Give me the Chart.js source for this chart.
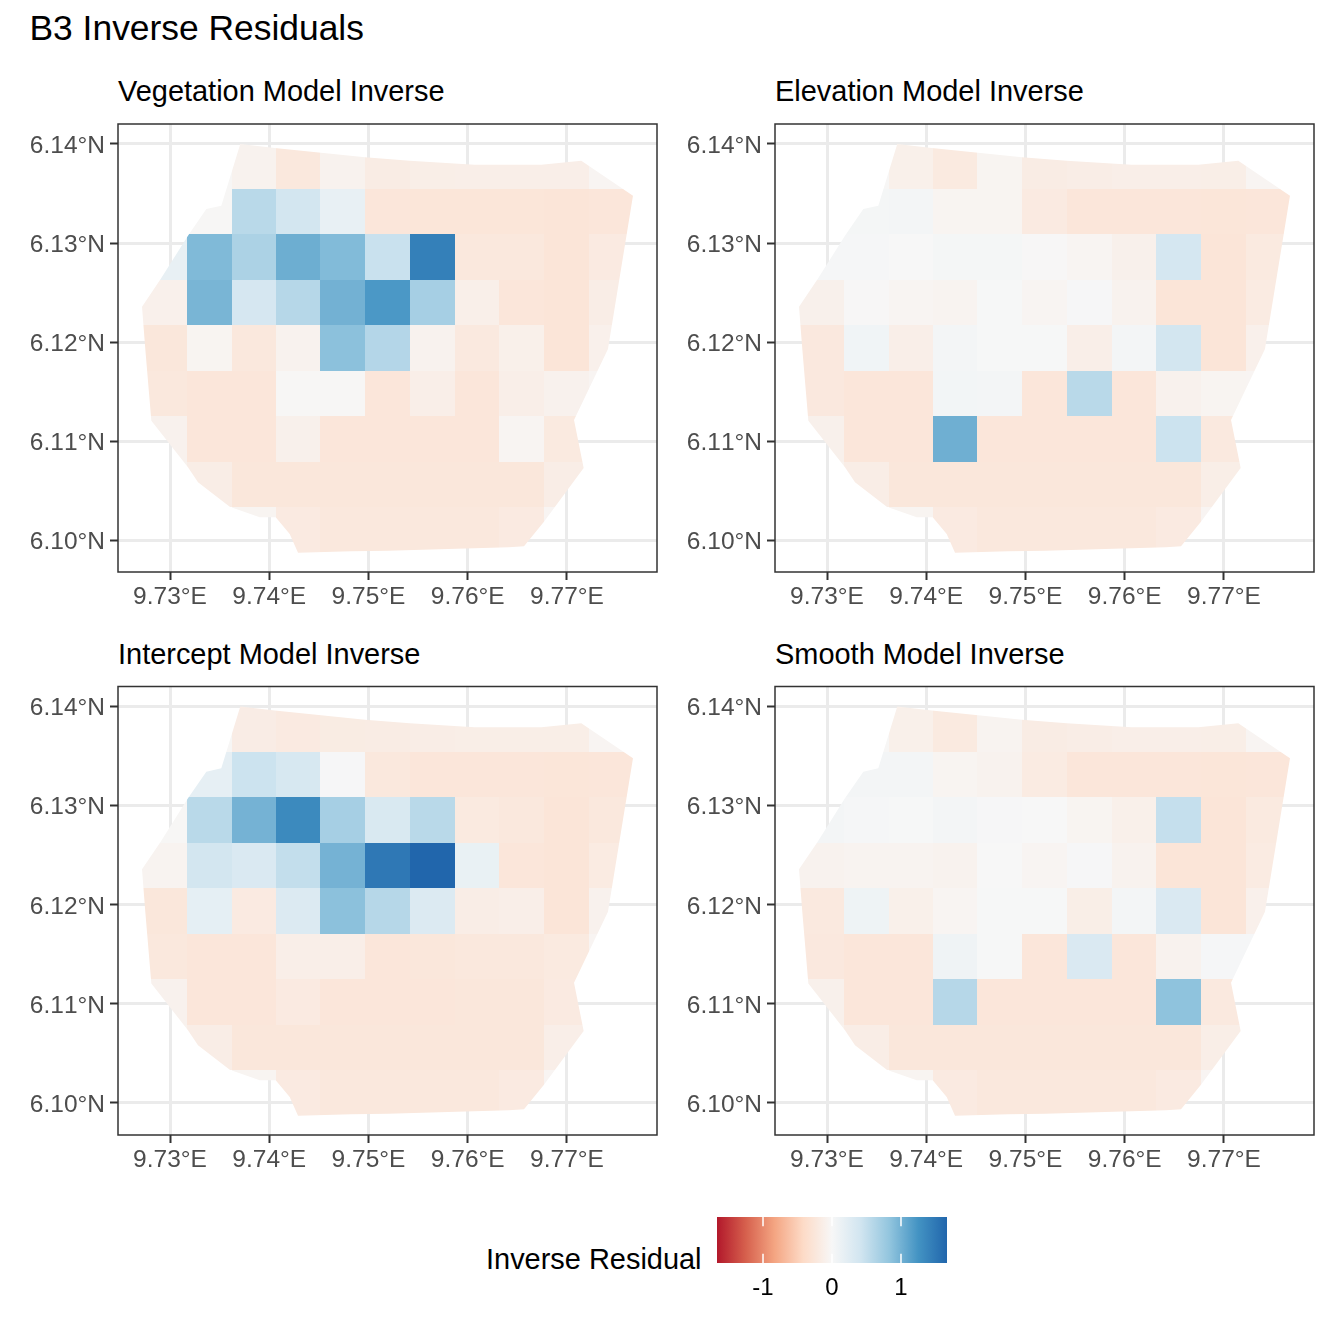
<!DOCTYPE html>
<html>
<head>
<meta charset="utf-8">
<title>B3 Inverse Residuals</title>
<script src="https://cdn.jsdelivr.net/npm/chart.js@4"></script>
<style>
    html, body { margin: 0; padding: 0; background: #fff; }
    #page { position: relative; width: 1344px; height: 1344px; overflow: hidden; font-family: "Liberation Sans", sans-serif; }
    #page canvas { position: absolute; }
    .label { position: absolute; color: #000; line-height: 1; white-space: nowrap; }
    .title { font-size: 35.4px; }
    .sub { font-size: 28.95px; }
</style>
</head>
<body>
<div id="page">
    <div class="label title" style="left:29.5px;top:11px">B3 Inverse Residuals</div>
    <div class="label sub" style="left:118px;top:76.5px">Vegetation Model Inverse</div>
    <div class="label sub" style="left:775px;top:76.5px">Elevation Model Inverse</div>
    <div class="label sub" style="left:118px;top:640px">Intercept Model Inverse</div>
    <div class="label sub" style="left:775px;top:640px">Smooth Model Inverse</div>
    <div class="label sub" style="left:486px;top:1245px">Inverse Residual</div>
    <canvas id="vegetation" width="672" height="510" style="left:0;top:100px"></canvas>
    <canvas id="elevation" width="672" height="510" style="left:657px;top:100px"></canvas>
    <canvas id="intercept" width="672" height="510" style="left:0;top:663px"></canvas>
    <canvas id="smooth" width="672" height="510" style="left:657px;top:663px"></canvas>
    <canvas id="colorbar" width="264" height="100" style="left:700px;top:1205px"></canvas>
</div>
<script>
// --- values ---
const xTickValues = [9.73, 9.74, 9.75, 9.76, 9.77];
const xTickLabels = ['9.73°E', '9.74°E', '9.75°E', '9.76°E', '9.77°E'];
const yTickValues = [6.10, 6.11, 6.12, 6.13, 6.14];
const yTickLabels = ['6.10°N', '6.11°N', '6.12°N', '6.13°N', '6.14°N'];
const legendTicks = [-1, 0, 1];
const legendTickLabels = ['-1', '0', '1'];

// raster cell edges
const lonEdges = [9.72700, 9.73171, 9.73620, 9.74068, 9.74516, 9.74965, 9.75418, 9.75867, 9.76315, 9.76768, 9.77217, 9.77665];
const latEdges = [6.14005, 6.13545, 6.13091, 6.12626, 6.12172, 6.11707, 6.11253, 6.10788, 6.10333, 6.09860];

// study area outline
const boundaryLon = [9.73708, 9.73517, 9.73366, 9.73181, 9.72906, 9.72718, 9.72751, 9.72812, 9.73181, 9.73282, 9.73602, 9.73904, 9.74065, 9.74206, 9.74290, 9.74827, 9.75196, 9.76413, 9.76567, 9.76768, 9.77168, 9.77071, 9.77413, 9.77665, 9.77144, 9.76741, 9.76070, 9.75415, 9.74965, 9.74055];
const boundaryLat = [6.14000, 6.13377, 6.13343, 6.13074, 6.12636, 6.12357, 6.11929, 6.11205, 6.10734, 6.10583, 6.10336, 6.10229, 6.10229, 6.10061, 6.09872, 6.09886, 6.09892, 6.09926, 6.09936, 6.10185, 6.10727, 6.11212, 6.11929, 6.13478, 6.13831, 6.13791, 6.13791, 6.13831, 6.13866, 6.13960];

const vegetationValues = [
    [null, -.02, -.075, -.225, -.075, -.165, -.135, -.13, -.13, -.13, -.04],
    [null, -.02, .573, .40, .165, -.25, -.26, -.26, -.26, -.27, -.255],
    [.165, .928, .661, 1.028, .918, .472, 1.43, -.225, -.225, -.27, -.19],
    [-.105, .968, .36, .598, .997, 1.21, .699, -.12, -.25, -.27, -.15],
    [-.24, -.05, -.23, -.075, .867, .611, -.075, -.21, -.11, -.27, -.105],
    [-.225, -.25, -.25, -.02, -.02, -.255, -.13, -.25, -.13, -.09, -.04],
    [-.09, -.25, -.25, -.10, -.25, -.255, -.255, -.255, -.045, -.20, null],
    [-.075, -.15, -.24, -.24, -.24, -.24, -.24, -.24, -.24, -.15, null],
    [null, null, -.05, -.19, -.225, -.225, -.225, -.225, -.19, -.04, null]
];
const elevationValues = [
    [null, -.02, -.11, -.20, -.05, -.165, -.15, -.13, -.13, -.14, -.045],
    [null, .03, .04, -.05, -.05, -.19, -.255, -.255, -.255, -.26, -.255],
    [.02, .02, 0, .03, .03, -.01, -.045, -.10, .375, -.27, -.20],
    [-.10, -.01, -.04, -.06, .01, -.045, .015, -.08, -.27, -.27, -.18],
    [-.22, .075, -.13, .045, .01, .01, -.13, .045, .40, -.27, -.105],
    [-.22, -.25, -.25, .05, .04, -.25, .573, -.25, -.09, -.05, -.04],
    [-.10, -.25, -.25, 1.018, -.25, -.25, -.25, -.25, .447, -.21, null],
    [-.075, -.15, -.24, -.24, -.24, -.24, -.24, -.24, -.24, -.135, null],
    [null, null, -.05, -.19, -.225, -.225, -.225, -.225, -.19, -.04, null]
];
const interceptValues = [
    [null, -.02, -.16, -.195, -.17, -.165, -.15, -.135, -.135, -.135, -.045],
    [null, .19, .447, .35, .015, -.225, -.255, -.255, -.255, -.26, -.255],
    [-.02, .573, .988, 1.333, .699, .33, .573, -.20, -.23, -.27, -.225],
    [-.06, .40, .32, .51, .988, 1.50, 1.667, .15, -.25, -.27, -.18],
    [-.24, .195, -.19, .30, .867, .598, .30, -.15, -.13, -.27, -.09],
    [-.225, -.25, -.25, -.13, -.13, -.25, -.24, -.225, -.225, -.20, -.04],
    [-.09, -.25, -.25, -.19, -.25, -.25, -.25, -.24, -.24, -.19, null],
    [-.075, -.15, -.24, -.24, -.24, -.24, -.24, -.24, -.24, -.13, null],
    [null, null, -.05, -.19, -.225, -.225, -.225, -.225, -.19, -.04, null]
];
const smoothValues = [
    [null, -.02, -.11, -.20, -.06, -.165, -.15, -.13, -.13, -.14, -.045],
    [null, .04, .04, -.05, -.075, -.18, -.255, -.255, -.255, -.26, -.255],
    [.04, .02, .01, .04, .015, 0, -.05, -.11, .497, -.27, -.20],
    [-.075, -.06, -.06, -.075, 0, -.04, .015, -.075, -.27, -.27, -.18],
    [-.21, .10, -.11, -.045, .01, .01, -.14, .04, .315, -.27, -.105],
    [-.22, -.25, -.25, .09, .01, -.25, .315, -.25, -.08, .02, .02],
    [-.10, -.25, -.25, .598, -.25, -.25, -.25, -.25, .847, -.21, null],
    [-.075, -.15, -.24, -.24, -.24, -.24, -.24, -.24, -.24, -.135, null],
    [null, null, -.05, -.19, -.225, -.225, -.225, -.225, -.19, -.04, null]
];

// RdBu, low to high, spread evenly over the limits
const fillLimit = 1.667;
const palette = [[178, 24, 43], [214, 96, 77], [244, 165, 130], [253, 219, 199], [247, 247, 247], [209, 229, 240], [146, 197, 222], [67, 147, 195], [33, 102, 172]];

function fillColor(v) {
    const pos = (v + fillLimit) / (2 * fillLimit) * (palette.length - 1);
    const i = Math.min(Math.max(Math.floor(pos), 0), palette.length - 2);
    const t = Math.min(Math.max(pos - i, 0), 1);
    const c = palette[i].map((p, k) => Math.round(p + (palette[i + 1][k] - p) * t));
    return `rgb(${c[0]},${c[1]},${c[2]})`;
}

// paints the raster clipped to the outline, then the panel border on top
const rasterPlugin = {
    id: 'raster',
    beforeDraw(chart) {
        chart.ctx.fontKerning = 'none'; // keeps "11" in the tick labels as wide as the others
    },
    beforeDatasetsDraw(chart) {
        const { ctx, scales: { x, y } } = chart;
        ctx.save();
        ctx.beginPath();
        boundaryLon.forEach((lon, i) => {
            const px = x.getPixelForValue(lon), py = y.getPixelForValue(boundaryLat[i]);
            if (i === 0) ctx.moveTo(px, py); else ctx.lineTo(px, py);
        });
        ctx.closePath();
        ctx.clip();
        chart.data.datasets[0].data.forEach(cell => {
            const left = Math.round(x.getPixelForValue(cell.x0));
            const right = Math.round(x.getPixelForValue(cell.x1));
            const top = Math.round(y.getPixelForValue(cell.y0));
            const bottom = Math.round(y.getPixelForValue(cell.y1));
            ctx.fillStyle = fillColor(cell.v);
            ctx.fillRect(left, top, right - left, bottom - top);
        });
        ctx.restore();
    },
    afterDraw(chart) {
        const { ctx, chartArea: a } = chart;
        ctx.save();
        ctx.strokeStyle = '#333333';
        ctx.lineWidth = 1.5;
        ctx.strokeRect(a.left, a.top, a.right - a.left, a.bottom - a.top);
        ctx.restore();
    }
};

function makePanel(id, values, paddingTop) {
    const cells = [];
    values.forEach((row, r) => row.forEach((v, c) => {
        if (v !== null) {
            cells.push({
                x: lonEdges[c], y: latEdges[r], v: v,
                x0: lonEdges[c], x1: lonEdges[c + 1], y0: latEdges[r], y1: latEdges[r + 1]
            });
        }
    }));
    const tickFont = { family: '"Liberation Sans", sans-serif', size: 24.5 };
    const grid = { color: '#EBEBEB', lineWidth: 3, tickColor: '#333333', tickWidth: 2, tickLength: 8 };
    return new Chart(document.getElementById(id), {
        type: 'scatter',
        data: { datasets: [{ data: cells, pointRadius: 0 }] },
        options: {
            responsive: false,
            devicePixelRatio: 1,
            animation: false,
            layout: { padding: { top: paddingTop, right: 15, bottom: 0, left: 0 } },
            plugins: { legend: { display: false }, title: { display: false }, tooltip: { enabled: false } },
            scales: {
                x: {
                    min: 9.72476, max: 9.77907,
                    grid: grid,
                    border: { display: false },
                    ticks: { color: '#4D4D4D', font: tickFont, padding: 3, maxRotation: 0, autoSkip: false, callback: (v, i) => xTickLabels[i] },
                    afterBuildTicks: s => { s.ticks = xTickValues.map(v => ({ value: v })); },
                    afterFit: s => { s.height = 38; }
                },
                y: {
                    min: 6.09677, max: 6.14202,
                    grid: grid,
                    border: { display: false },
                    ticks: { color: '#4D4D4D', font: tickFont, padding: 5, labelOffset: 2, autoSkip: false, callback: (v, i) => yTickLabels[i] },
                    afterBuildTicks: s => { s.ticks = yTickValues.map(v => ({ value: v })); },
                    afterFit: s => { s.width = 118; }
                }
            }
        },
        plugins: [rasterPlugin]
    });
}

makePanel('vegetation', vegetationValues, 24);
makePanel('elevation', elevationValues, 24);
makePanel('intercept', interceptValues, 23.5);
makePanel('smooth', smoothValues, 23.5);

// colour bar legend
const colorbarPlugin = {
    id: 'colorbar',
    beforeDatasetsDraw(chart) {
        const { ctx, chartArea: a, scales: { x } } = chart;
        const gradient = ctx.createLinearGradient(a.left, 0, a.right, 0);
        palette.forEach((c, i) => gradient.addColorStop(i / (palette.length - 1), `rgb(${c[0]},${c[1]},${c[2]})`));
        ctx.save();
        ctx.fillStyle = gradient;
        ctx.fillRect(a.left, a.top, a.right - a.left, a.bottom - a.top);
        ctx.strokeStyle = '#fff';
        ctx.lineWidth = 1.5;
        const mark = (a.bottom - a.top) / 5;
        legendTicks.forEach(v => {
            const px = x.getPixelForValue(v);
            ctx.beginPath();
            ctx.moveTo(px, a.top); ctx.lineTo(px, a.top + mark);
            ctx.moveTo(px, a.bottom - mark); ctx.lineTo(px, a.bottom);
            ctx.stroke();
        });
        ctx.restore();
    }
};

new Chart(document.getElementById('colorbar'), {
    type: 'scatter',
    data: { datasets: [{ data: [], pointRadius: 0 }] },
    options: {
        responsive: false,
        devicePixelRatio: 1,
        animation: false,
        layout: { padding: { top: 12, right: 17, bottom: 0, left: 17 } },
        plugins: { legend: { display: false }, tooltip: { enabled: false } },
        scales: {
            x: {
                min: -fillLimit, max: fillLimit,
                grid: { display: false },
                border: { display: false },
                ticks: { color: '#000', font: { family: '"Liberation Sans", sans-serif', size: 24 }, padding: 3, maxRotation: 0, autoSkip: false, callback: (v, i) => legendTickLabels[i] },
                afterBuildTicks: s => { s.ticks = legendTicks.map(v => ({ value: v })); },
                afterFit: s => { s.height = 42; }
            },
            y: { display: false, min: 0, max: 1 }
        }
    },
    plugins: [colorbarPlugin]
});
</script>
</body>
</html>
